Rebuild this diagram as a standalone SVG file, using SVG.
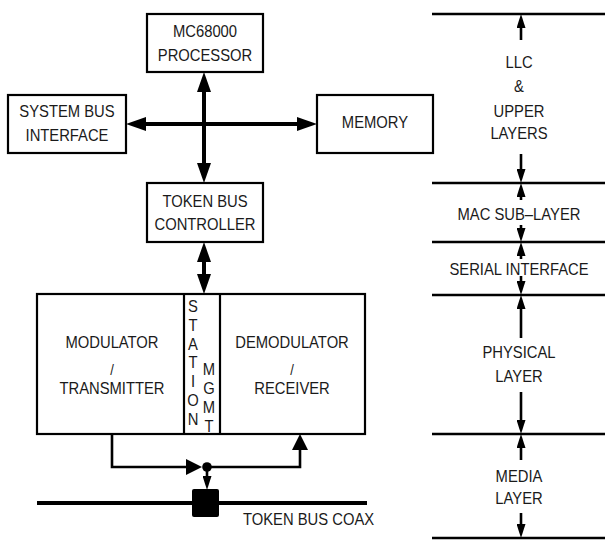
<svg xmlns="http://www.w3.org/2000/svg" width="605" height="540" viewBox="0 0 605 540">
<style>
.box{fill:#fff;stroke:#000;stroke-width:2.2}
.t{font-family:"Liberation Sans",Arial,sans-serif;font-size:17px;fill:#1a1a1a;text-anchor:middle}
.s{font-size:15px}
.bus{stroke:#000;stroke-width:4;fill:none}
.thin{stroke:#000;stroke-width:2.6;fill:none}
.lay{stroke:#000;stroke-width:2.6}
</style>
<defs>
<marker id="ab" viewBox="0 0 20 14" markerWidth="20" markerHeight="14" refX="0" refY="7" orient="auto-start-reverse" markerUnits="userSpaceOnUse"><path d="M0,0 L20,7 L0,14 z" fill="#000"/></marker>
<marker id="am" viewBox="0 0 16 16" markerWidth="16" markerHeight="16" refX="0" refY="8" orient="auto-start-reverse" markerUnits="userSpaceOnUse"><path d="M0,0 L16,8 L0,16 z" fill="#000"/></marker>
<marker id="as" viewBox="0 0 14 9" markerWidth="14" markerHeight="9" refX="0" refY="4.5" orient="auto-start-reverse" markerUnits="userSpaceOnUse"><path d="M0,0 L14,4.5 L0,9 z" fill="#000"/></marker>
</defs>
<rect width="605" height="540" fill="#fff"/>
<g id="connectors">
<line class="bus" x1="204" y1="92" x2="204" y2="163" marker-start="url(#ab)" marker-end="url(#ab)"/>
<line class="bus" x1="146" y1="124" x2="297" y2="124" marker-start="url(#ab)" marker-end="url(#ab)"/>
<line class="bus" x1="204" y1="262" x2="204" y2="274" marker-start="url(#ab)" marker-end="url(#ab)"/>
<polyline class="thin" points="112,434 112,467 186,467" marker-end="url(#am)"/>
<polyline class="thin" points="207,467 300,467 300,450" marker-end="url(#am)"/>
<line class="thin" x1="207" y1="467" x2="207" y2="476" marker-end="url(#as)"/>
<circle cx="207" cy="467" r="4.8" fill="#000"/>
<line class="bus" x1="37" y1="503" x2="367" y2="503"/>
<line class="thin" x1="521" y1="40" x2="521" y2="28" marker-end="url(#as)"/>
<line class="thin" x1="521" y1="154" x2="521" y2="169" marker-end="url(#as)"/>
<line class="thin" x1="521" y1="200" x2="521" y2="197" marker-end="url(#as)"/>
<line class="thin" x1="521" y1="225" x2="521" y2="228" marker-end="url(#as)"/>
<line class="thin" x1="521" y1="259" x2="521" y2="256" marker-end="url(#as)"/>
<line class="thin" x1="521" y1="276" x2="521" y2="281" marker-end="url(#as)"/>
<line class="thin" x1="521" y1="338" x2="521" y2="309" marker-end="url(#as)"/>
<line class="thin" x1="521" y1="392" x2="521" y2="420" marker-end="url(#as)"/>
<line class="thin" x1="521" y1="460" x2="521" y2="448" marker-end="url(#as)"/>
<line class="thin" x1="521" y1="513" x2="521" y2="524" marker-end="url(#as)"/>
</g>
<g id="layer-lines">
<line class="lay" x1="432" y1="14" x2="605" y2="14"/>
<line class="lay" x1="432" y1="183" x2="605" y2="183"/>
<line class="lay" x1="432" y1="242" x2="605" y2="242"/>
<line class="lay" x1="432" y1="295" x2="605" y2="295"/>
<line class="lay" x1="432" y1="434" x2="605" y2="434"/>
<line class="lay" x1="432" y1="538" x2="605" y2="538"/>
</g>
<g id="processor">
<rect class="box" x="147" y="14" width="116" height="58"/>
<text class="t" transform="translate(205,37) scale(0.87,1)">MC68000</text>
<text class="t" transform="translate(205,60.5) scale(0.87,1)">PROCESSOR</text>
</g>
<g id="sysbus">
<rect class="box" x="8" y="95" width="118" height="58"/>
<text class="t" transform="translate(67,117) scale(0.87,1)">SYSTEM BUS</text>
<text class="t" transform="translate(67,141) scale(0.87,1)">INTERFACE</text>
</g>
<g id="memory">
<rect class="box" x="317" y="95" width="116" height="58"/>
<text class="t" transform="translate(375,128) scale(0.87,1)">MEMORY</text>
</g>
<g id="tbc">
<rect class="box" x="147" y="183" width="116" height="59"/>
<text class="t" transform="translate(205,206.5) scale(0.87,1)">TOKEN BUS</text>
<text class="t" transform="translate(205,230) scale(0.87,1)">CONTROLLER</text>
</g>
<g id="modem">
<rect class="box" x="37" y="294" width="328" height="140"/>
<line class="box" x1="184" y1="294" x2="184" y2="434"/>
<line class="box" x1="220" y1="294" x2="220" y2="434"/>
</g>
<g id="modulator">
<text class="t" transform="translate(112,348) scale(0.87,1)">MODULATOR</text>
<text class="t s" transform="translate(112,375) scale(0.87,1)">/</text>
<text class="t" transform="translate(112,394) scale(0.87,1)">TRANSMITTER</text>
</g>
<g id="station">
<text class="t" transform="translate(193,312) scale(0.87,1)">S</text>
<text class="t" transform="translate(193,330.8) scale(0.87,1)">T</text>
<text class="t" transform="translate(193,349.6) scale(0.87,1)">A</text>
<text class="t" transform="translate(193,368.4) scale(0.87,1)">T</text>
<text class="t" transform="translate(193,387.2) scale(0.87,1)">I</text>
<text class="t" transform="translate(193,406) scale(0.87,1)">O</text>
<text class="t" transform="translate(193,424.8) scale(0.87,1)">N</text>
<text class="t" transform="translate(209,375) scale(0.87,1)">M</text>
<text class="t" transform="translate(209,394) scale(0.87,1)">G</text>
<text class="t" transform="translate(209,413) scale(0.87,1)">M</text>
<text class="t" transform="translate(209,432) scale(0.87,1)">T</text>
</g>
<g id="demodulator">
<text class="t" transform="translate(292,347.5) scale(0.87,1)">DEMODULATOR</text>
<text class="t s" transform="translate(292,375) scale(0.87,1)">/</text>
<text class="t" transform="translate(292,394) scale(0.87,1)">RECEIVER</text>
</g>
<g id="tap">
<rect x="192" y="489" width="27" height="28" rx="2" fill="#000"/>
</g>
<g id="coax-label">
<text class="t" style="text-anchor:start" transform="translate(243,525) scale(0.87,1)">TOKEN BUS COAX</text>
</g>
<g id="layers">
<text class="t" transform="translate(519,68) scale(0.87,1)">LLC</text>
<text class="t" transform="translate(519,92) scale(0.87,1)">&amp;</text>
<text class="t" transform="translate(519,117) scale(0.87,1)">UPPER</text>
<text class="t" transform="translate(519,138.5) scale(0.87,1)">LAYERS</text>
<text class="t" transform="translate(519,220) scale(0.87,1)">MAC SUB–LAYER</text>
<text class="t" transform="translate(519,275) scale(0.87,1)">SERIAL INTERFACE</text>
<text class="t" transform="translate(519,358) scale(0.87,1)">PHYSICAL</text>
<text class="t" transform="translate(519,382) scale(0.87,1)">LAYER</text>
<text class="t" transform="translate(519,481.5) scale(0.87,1)">MEDIA</text>
<text class="t" transform="translate(519,503.5) scale(0.87,1)">LAYER</text>
</g>
</svg>
